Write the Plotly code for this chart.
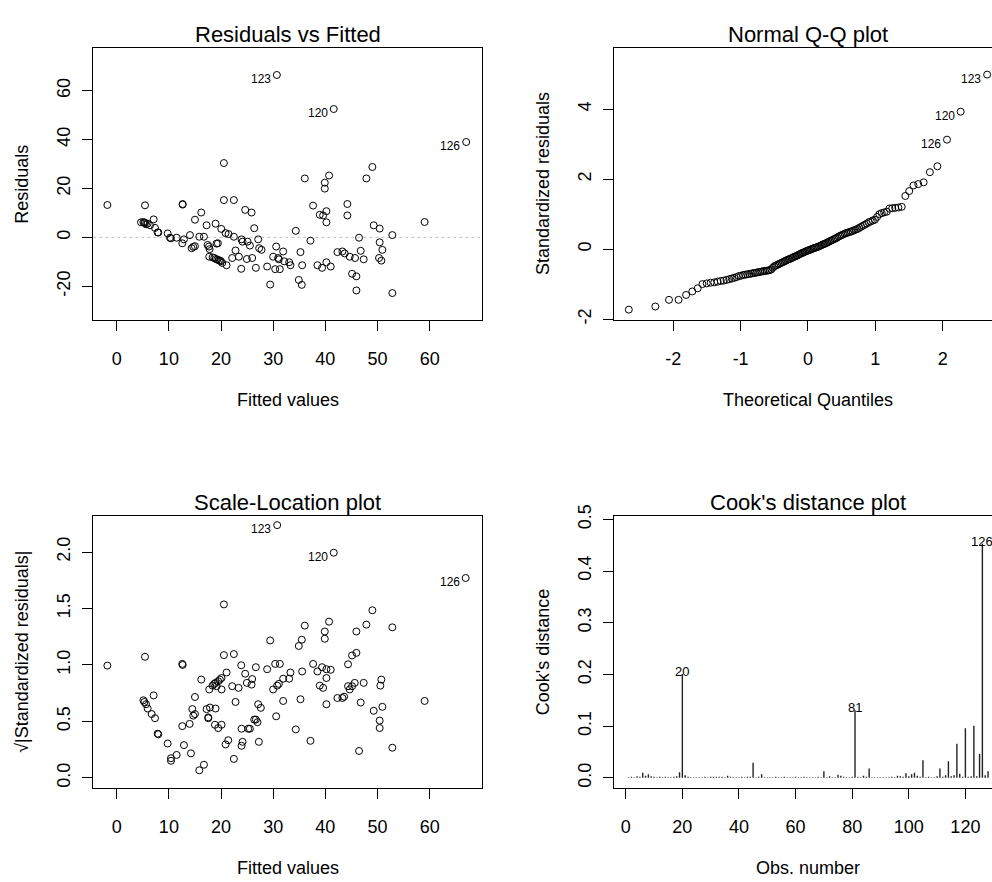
import plotly.graph_objects as go
from statistics import NormalDist

# ---------------- data ----------------
# Residuals vs Fitted
rf_fit = [-1.79, 4.66, 5.11, 5.42, 5.62, 5.42, 5.93, 6.38, 7.08, 7.34,
          7.85, 7.98, 9.76, 10.21, 10.40, 11.49, 12.64, 12.64, 12.57, 12.89,
          14.04, 14.36, 14.68, 15.00, 15.00, 15.83, 16.72, 16.21, 17.23, 17.42,
          17.68, 17.80, 17.74, 18.95, 19.14, 19.40, 18.38, 18.70, 19.02, 19.27,
          19.59, 19.97, 20.23, 20.04, 20.55, 20.55, 20.87, 21.44, 21.06, 22.14,
          22.46, 22.46, 22.78, 23.42, 23.87, 23.93, 24.12, 24.63, 24.95, 25.08,
          25.53, 25.85, 25.97, 26.36, 26.68, 27.12, 27.31, 27.76, 28.84, 29.42,
          29.99, 30.57, 30.70, 30.38, 31.27, 30.95, 31.08, 31.91, 32.10, 33.06,
          33.31, 34.33, 34.91, 35.23, 35.48, 35.55, 36.06, 37.14, 37.65, 38.48,
          38.93, 39.57, 39.37, 39.89, 39.89, 40.20, 40.20, 40.20, 40.71, 41.03,
          41.61, 42.31, 43.27, 43.71, 44.67, 45.12, 45.69, 45.95, 45.95, 44.22,
          44.22, 46.46, 46.78, 47.35, 47.86, 49.01, 49.27, 50.41, 50.41, 50.29,
          50.73, 50.93, 52.84, 52.84, 59.03, 67.00, 5.30, 19.80]
rf_res = [13.25, 6.16, 6.29, 5.89, 5.35, 13.12, 5.62, 4.95, 7.36, 3.88,
          2.01, 2.01, 1.61, -0.13, -0.40, -0.13, 13.65, 13.40, -2.41, -0.80,
          0.94, -4.42, -3.88, -3.61, 7.23, 0.27, 0.27, 10.17, 4.95, -3.08,
          -3.75, -4.82, -7.90, 5.62, -2.54, -2.41, -8.17, -8.43, -8.84, -9.10,
          -9.37, -9.77, -10.44, 3.48, 30.39, 15.26, 1.74, 1.34, -11.38, -8.43,
          15.26, 0.27, -5.35, -7.90, -12.85, -0.80, -1.74, 11.24, -8.84, -1.74,
          -3.35, 10.17, -8.43, 3.75, -12.45, -0.80, -4.42, -5.09, -11.91, -19.28,
          -7.90, -3.75, 66.40, -12.99, -12.99, -8.43, -8.97, -5.76, -9.77, -10.17,
          -11.38, 2.68, -17.40, -6.02, -19.41, -11.38, 24.10, -1.34, 12.99, -11.38,
          9.24, 8.97, -12.45, 22.36, 19.95, 10.71, -10.17, 6.16, 25.30, -11.91,
          52.48, -6.02, -5.76, -6.56, -7.90, -14.86, -8.43, -15.93, -21.69, 13.65,
          8.97, -0.13, -5.49, -8.97, 24.10, 28.78, 4.95, 3.61, -2.01, -8.43,
          -9.50, -5.09, 0.94, -22.76, 6.29, 39.00, 6.00, -9.50]
rf_label_idx = [72, 100, 125]
rf_labels = ["123", "120", "126"]

# Normal Q-Q: sorted standardized residuals
qq_y = [-1.73, -1.64, -1.45, -1.45, -1.31, -1.21, -1.12, -1.00, -0.98, -0.96,
        -0.95, -0.93, -0.91, -0.90, -0.88, -0.86, -0.84, -0.82, -0.80, -0.77,
        -0.76, -0.74, -0.73, -0.72, -0.71, -0.70, -0.69, -0.68, -0.67, -0.66,
        -0.65, -0.64, -0.63, -0.62, -0.62, -0.61, -0.60, -0.58, -0.53, -0.49,
        -0.47, -0.45, -0.43, -0.41, -0.39, -0.37, -0.35, -0.33, -0.31, -0.29,
        -0.28, -0.26, -0.24, -0.22, -0.21, -0.19, -0.17, -0.15, -0.13, -0.11,
        -0.10, -0.08, -0.06, -0.05, -0.03, -0.02, 0.00, 0.01, 0.03, 0.04,
        0.05, 0.07, 0.08, 0.10, 0.12, 0.14, 0.15, 0.17, 0.19, 0.21,
        0.23, 0.25, 0.27, 0.29, 0.31, 0.33, 0.36, 0.38, 0.40, 0.42,
        0.44, 0.46, 0.47, 0.49, 0.50, 0.52, 0.54, 0.56, 0.58, 0.61,
        0.64, 0.67, 0.70, 0.73, 0.77, 0.79, 0.82, 0.84, 0.92, 1.00,
        1.03, 1.05, 1.07, 1.16, 1.17, 1.18, 1.19, 1.21, 1.52, 1.66,
        1.82, 1.86, 1.91, 2.20, 2.37, 3.13, 3.93, 4.99]
qq_label_rank = [127, 126, 125]
qq_labels = ["123", "120", "126"]

# Scale-Location
sl_fit = [-1.79, 5.11, 5.30, 5.62, 5.42, 5.93, 6.70, 7.34, 7.08, 7.85,
          7.98, 9.76, 10.40, 10.40, 11.49, 12.57, 12.64, 12.57, 12.89, 13.98,
          14.23, 14.49, 14.68, 15.00, 15.00, 15.83, 16.72, 16.21, 17.23, 17.55,
          17.55, 17.74, 17.87, 18.38, 18.70, 18.95, 19.14, 19.46, 19.78, 20.10,
          20.10, 18.95, 18.83, 19.46, 20.10, 20.55, 20.55, 20.87, 21.38, 21.06,
          22.14, 22.46, 22.46, 22.78, 23.36, 23.87, 23.93, 24.12, 23.93, 24.63,
          24.95, 25.21, 25.53, 25.85, 25.97, 26.36, 26.68, 26.99, 26.68, 27.12,
          27.63, 27.25, 28.84, 29.42, 29.99, 30.57, 30.38, 31.27, 30.76, 30.76,
          31.08, 31.91, 31.91, 33.06, 33.31, 34.33, 34.91, 35.23, 35.48, 35.55,
          36.06, 37.14, 37.65, 38.48, 38.93, 39.57, 39.37, 39.89, 39.89, 40.20,
          40.20, 40.20, 40.71, 41.03, 41.61, 42.31, 43.27, 43.59, 44.35, 44.67,
          45.12, 45.63, 44.35, 45.12, 45.95, 45.95, 46.46, 46.78, 47.35, 47.86,
          49.01, 49.27, 50.41, 50.41, 50.54, 50.73, 50.93, 52.84, 52.84, 59.03,
          66.90]
sl_val = [0.994, 0.687, 0.672, 0.652, 1.072, 0.614, 0.565, 0.528, 0.730, 0.391,
          0.386, 0.304, 0.174, 0.151, 0.203, 1.009, 1.000, 0.458, 0.290, 0.478,
          0.217, 0.609, 0.551, 0.565, 0.716, 0.067, 0.116, 0.870, 0.609, 0.536,
          0.528, 0.783, 0.623, 0.817, 0.832, 0.841, 0.812, 0.855, 0.870, 0.884,
          0.783, 0.614, 0.470, 0.441, 0.470, 1.536, 1.087, 0.296, 0.333, 0.933,
          0.812, 1.096, 0.168, 0.672, 0.797, 0.997, 0.435, 0.319, 0.284, 0.922,
          0.841, 0.435, 0.435, 0.826, 0.875, 0.516, 0.516, 0.493, 0.980, 0.652,
          0.620, 0.319, 0.962, 1.217, 0.783, 0.545, 1.009, 1.009, 2.238, 0.817,
          0.832, 0.681, 0.878, 0.878, 0.933, 0.429, 1.168, 0.696, 1.223, 0.942,
          1.348, 0.328, 1.009, 0.942, 0.817, 0.797, 0.980, 1.296, 1.232, 0.884,
          0.962, 0.652, 1.383, 0.957, 1.994, 0.707, 0.707, 0.719, 0.812, 0.783,
          0.812, 0.841, 1.006, 1.084, 1.107, 1.296, 0.238, 0.667, 0.841, 1.357,
          1.484, 0.594, 0.507, 0.441, 0.817, 0.870, 0.629, 1.333, 0.267, 0.681,
          1.770]
sl_label_idx = [78, 104, 130]
sl_labels = ["123", "120", "126"]

# Cook's distance by observation number (1..128)
cook = [0.001, 0.002, 0.001, 0.003, 0.002, 0.010, 0.004, 0.007, 0.003, 0.002,
        0.001, 0.002, 0.001, 0.002, 0.001, 0.001, 0.002, 0.003, 0.011, 0.201,
        0.005, 0.002, 0.001, 0.001, 0.001, 0.001, 0.001, 0.002, 0.001, 0.002,
        0.002, 0.002, 0.002, 0.002, 0.001, 0.004, 0.002, 0.001, 0.001, 0.001,
        0.002, 0.001, 0.002, 0.002, 0.029, 0.001, 0.002, 0.007, 0.001, 0.001,
        0.001, 0.001, 0.002, 0.001, 0.001, 0.002, 0.001, 0.001, 0.001, 0.002,
        0.001, 0.001, 0.002, 0.001, 0.001, 0.001, 0.001, 0.002, 0.001, 0.013,
        0.001, 0.003, 0.001, 0.001, 0.006, 0.004, 0.002, 0.001, 0.001, 0.002,
        0.131, 0.002, 0.001, 0.004, 0.002, 0.018, 0.001, 0.001, 0.001, 0.001,
        0.001, 0.001, 0.001, 0.002, 0.001, 0.004, 0.003, 0.002, 0.009, 0.003,
        0.007, 0.010, 0.004, 0.002, 0.034, 0.001, 0.002, 0.001, 0.001, 0.003,
        0.018, 0.002, 0.005, 0.032, 0.003, 0.005, 0.066, 0.008, 0.002, 0.096,
        0.002, 0.003, 0.101, 0.003, 0.046, 0.453, 0.005, 0.013]
cook_label_obs = [20, 81, 126]

# tick values / labels (ASCII hyphen-minus as in the reference)
rf_xticks = [0, 10, 20, 30, 40, 50, 60]
rf_yticks = [-20, 0, 20, 40, 60]
rf_yticktext = ["-20", "0", "20", "40", "60"]
qq_xticks = [-2, -1, 0, 1, 2]
qq_xticktext = ["-2", "-1", "0", "1", "2"]
qq_yticks = [-2, 0, 2, 4]
qq_yticktext = ["-2", "0", "2", "4"]
sl_yticks = [0.0, 0.5, 1.0, 1.5, 2.0]
sl_yticktext = ["0.0", "0.5", "1.0", "1.5", "2.0"]
ck_xticks = [0, 20, 40, 60, 80, 100, 120]
ck_yticks = [0.0, 0.1, 0.2, 0.3, 0.4, 0.5]
ck_yticktext = ["0.0", "0.1", "0.2", "0.3", "0.4", "0.5"]

# ---------------- layout geometry (pixels) ----------------
W, H = 992, 882
FONT = "Liberation Sans, Arial, Helvetica, sans-serif"
LX0, LX1 = 93.3, 482.0
RX0 = 614.0
TY0, TY1 = 36.5, 314.0
BY0, BY1 = 513.3, 790.7


def fx(X):
    return X / W


def fy(Y):
    return 1 - Y / H


fig = go.Figure()
mk = dict(symbol="circle-open", size=7, color="black", line=dict(width=1, color="black"))

fig.add_trace(go.Scatter(x=rf_fit, y=rf_res, mode="markers", marker=mk,
                         xaxis="x", yaxis="y", hoverinfo="skip"))

nd = NormalDist()
n = len(qq_y)
a = 0.375 if n <= 10 else 0.5
qq_x = [nd.inv_cdf((i + 1 - a) / (n + 1 - 2 * a)) for i in range(n)]
fig.add_trace(go.Scatter(x=qq_x, y=qq_y, mode="markers", marker=mk,
                         xaxis="x2", yaxis="y2", hoverinfo="skip"))

fig.add_trace(go.Scatter(x=sl_fit, y=sl_val, mode="markers", marker=mk,
                         xaxis="x3", yaxis="y3", hoverinfo="skip"))

cx, cy = [], []
for i, d in enumerate(cook, start=1):
    cx += [i, i, None]
    cy += [0, d, None]
fig.add_trace(go.Scatter(x=cx, y=cy, mode="lines", line=dict(color="#222222", width=1.4),
                         xaxis="x4", yaxis="y4", hoverinfo="skip"))


def axis(domain, rng, tickvals, ticktext=None, anchor=None, mirror=True, angle=0, standoff=10):
    d = dict(domain=domain, range=rng, tickmode="array", tickvals=tickvals,
             showline=True, linecolor="black", linewidth=1, mirror=mirror,
             ticks="outside", ticklen=10, tickwidth=1, tickcolor="black",
             showgrid=False, zeroline=False, anchor=anchor,
             tickfont=dict(family=FONT, size=18, color="black"),
             tickangle=angle, ticklabelstandoff=standoff, fixedrange=True)
    if ticktext is not None:
        d["ticktext"] = ticktext
    return d


ldom = [fx(LX0), fx(LX1)]
rdom = [fx(RX0), 1.0]
tdom = [fy(TY1), fy(TY0)]
bdom = [fy(BY1), fy(BY0)]

XS, YS = 12, 5
fig.update_layout(
    width=W, height=H, margin=dict(l=0, r=0, t=0, b=0),
    paper_bgcolor="white", plot_bgcolor="white", showlegend=False,
    font=dict(family=FONT, color="black"),
    xaxis=axis(ldom, [-4.49, 70.03], rf_xticks, anchor="y", standoff=XS),
    yaxis=axis(tdom, [-33.9, 77.5], rf_yticks, rf_yticktext, anchor="x", angle=-90, standoff=YS),
    xaxis2=axis(rdom, [-2.88, 2.732], qq_xticks, qq_xticktext, anchor="y2", standoff=XS),
    yaxis2=axis(tdom, [-2.035, 5.755], qq_yticks, qq_yticktext, anchor="x2", mirror=False, angle=-90, standoff=YS),
    xaxis3=axis(ldom, [-4.49, 70.03], rf_xticks, anchor="y3", standoff=XS),
    yaxis3=axis(bdom, [-0.093, 2.319], sl_yticks, sl_yticktext, anchor="x3", angle=-90, standoff=YS),
    xaxis4=axis(rdom, [-4.15, 129.4], ck_xticks, anchor="y4", standoff=XS),
    yaxis4=axis(bdom, [-0.0203, 0.5065], ck_yticks, ck_yticktext, anchor="x4", mirror=False, angle=-90, standoff=YS),
)

# dotted zero reference line
fig.add_shape(type="line", xref="x domain", yref="y", x0=0, x1=1, y0=0, y1=0,
              line=dict(color="#bebebe", width=1, dash="dot"), layer="below")

ann = []


def text(x, y, s, size, angle=0):
    ann.append(dict(x=fx(x), y=fy(y), xref="paper", yref="paper", text=s, showarrow=False,
                    font=dict(family=FONT, size=size, color="black"), textangle=angle,
                    xanchor="center", yanchor="middle"))


LCX = (LX0 + LX1) / 2
RCX = RX0 + (LX1 - LX0) / 2
# titles
text(LCX, 23, "Residuals vs Fitted", 22)
text(RCX, 23, "Normal Q-Q plot", 22)
text(LCX, 500, "Scale-Location plot", 22)
text(RCX, 500, "Cook's distance plot", 22)
# x titles
text(LCX, 395, "Fitted values", 18)
text(RCX, 395, "Theoretical Quantiles", 18)
text(LCX, 871.5, "Fitted values", 18)
text(RCX, 871.5, "Obs. number", 18)
# y titles
text(21.7, (TY0 + TY1) / 2, "Residuals", 18, -90)
text(543, (TY0 + TY1) / 2, "Standardized residuals", 18, -90)
text(21.7, (BY0 + BY1) / 2, "\u221a|Standardized residuals|", 18, -90)
text(543, (BY0 + BY1) / 2, "Cook's distance", 18, -90)


def pt_label(xref, yref, x, y, s):
    ann.append(dict(x=x, y=y, xref=xref, yref=yref, text=s, showarrow=False,
                    font=dict(family=FONT, size=12, color="black"),
                    xanchor="right", yanchor="middle", xshift=-4, yshift=-4))


for i, s in zip(rf_label_idx, rf_labels):
    pt_label("x", "y", rf_fit[i], rf_res[i], s)
for r, s in zip(qq_label_rank, qq_labels):
    pt_label("x2", "y2", qq_x[r], qq_y[r], s)
for i, s in zip(sl_label_idx, sl_labels):
    pt_label("x3", "y3", sl_fit[i], sl_val[i], s)
for o in cook_label_obs:
    ann.append(dict(x=o, y=cook[o - 1], xref="x4", yref="y4", text=str(o), showarrow=False,
                    font=dict(family=FONT, size=13, color="black"),
                    xanchor="center", yanchor="middle", yshift=2.5))

fig.update_layout(annotations=ann)
fig.write_html("out.html")
